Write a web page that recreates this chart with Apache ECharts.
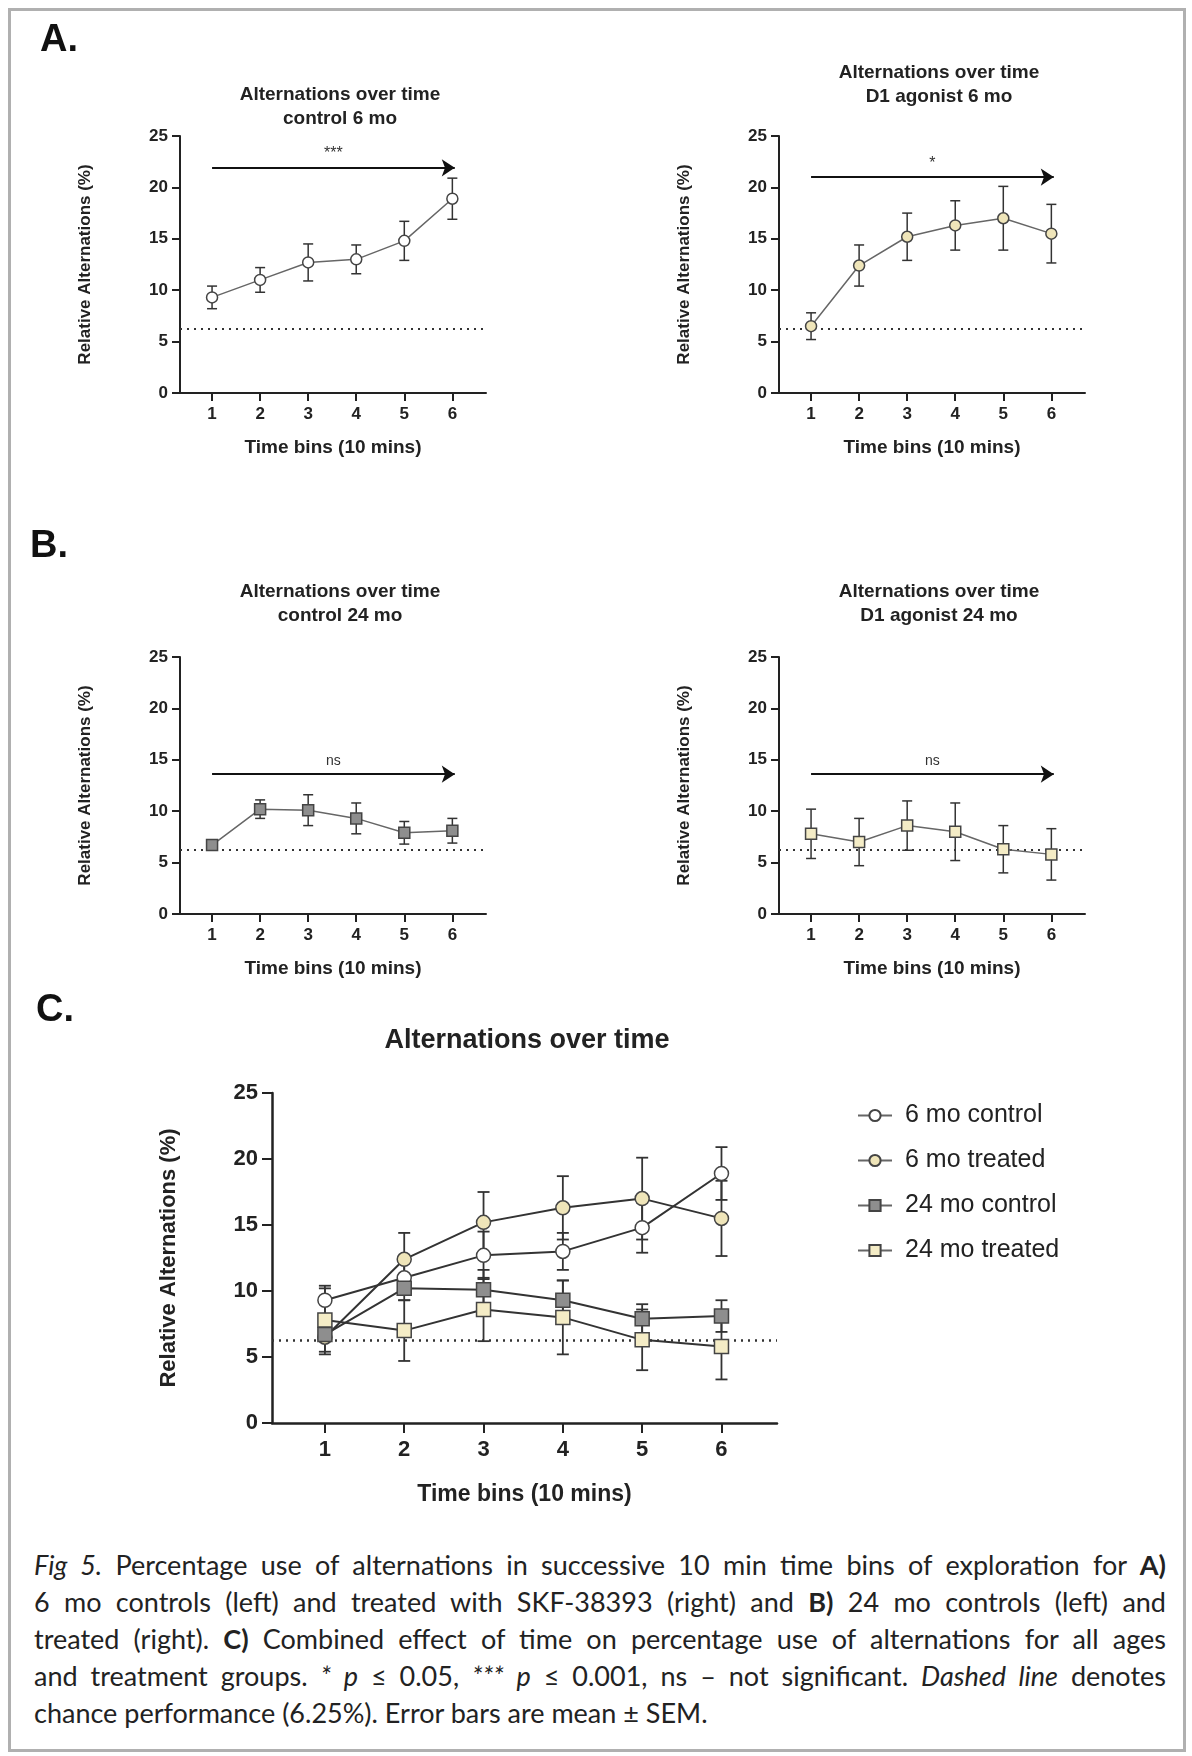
<!DOCTYPE html>
<html lang="en">
<head>
  <meta charset="UTF-8">
  <title>Alternations over time</title>
  <script src="https://cdn.jsdelivr.net/npm/echarts@6.0.0/dist/echarts.min.js"></script>
  <style>
    body { margin: 0; background: #fff; }
    #frame { position: absolute; left: 8px; top: 8px; width: 1172px; height: 1738px; border: 3px solid #b0b0b0; }
    #chart { position: absolute; left: 0; top: 0; width: 1192px; height: 1530px; }
    #caption { position: absolute; left: 34px; top: 1546px; width: 1132px; font-family: Lato, "Open Sans", sans-serif;
      font-size: 27px; line-height: 37px; color: #222; }
    #caption span { display: block; text-align: justify; text-align-last: justify; white-space: nowrap; }
    #caption span.last { text-align-last: left; }
  </style>
</head>
<body>
  <div id="frame"></div>
  <div id="chart"></div>
  <div id="caption">
    <span><i>Fig 5.</i> Percentage use of alternations in successive 10 min time bins of exploration for <b>A)</b></span>
    <span>6 mo controls (left) and treated with SKF-38393 (right) and <b>B)</b> 24 mo controls (left) and</span>
    <span>treated (right). <b>C)</b> Combined effect of time on percentage use of alternations for all ages</span>
    <span>and treatment groups. <i>* p</i> ≤ 0.05, <i>*** p</i> ≤ 0.001, ns – not significant. <i>Dashed line</i> denotes</span>
    <span class="last">chance performance (6.25%). Error bars are mean ± SEM.</span>
  </div>

  <script>
    // data
    const bins = [1, 2, 3, 4, 5, 6]
    const yTicks = [0, 5, 10, 15, 20, 25]
    const chance = 6.25
    const ctrl6 = [9.3, 11.0, 12.7, 13.0, 14.8, 18.9]
    const ctrl6Sem = [1.1, 1.2, 1.8, 1.4, 1.9, 2.0]
    const treat6 = [6.5, 12.4, 15.2, 16.3, 17.0, 15.5]
    const treat6Sem = [1.3, 2.0, 2.3, 2.4, 3.1, 2.85]
    const ctrl24 = [6.7, 10.2, 10.1, 9.3, 7.9, 8.1]
    const ctrl24Sem = [0.5, 0.9, 1.5, 1.5, 1.1, 1.2]
    const treat24 = [7.8, 7.0, 8.6, 8.0, 6.3, 5.8]
    const treat24Sem = [2.4, 2.3, 2.4, 2.8, 2.3, 2.5]

    const FONT = '"Liberation Sans", Arial, sans-serif'
    const chart = echarts.init(document.getElementById('chart'))

    const panels = [
      { name: '6 mo control', vals: ctrl6, sem: ctrl6Sem, symbol: 'circle', fill: '#ffffff',
        left: 180, top: 136, title: 'Alternations over time\ncontrol 6 mo', titleTop: 78, arrowY: 21.9, sig: '***' },
      { name: '6 mo treated', vals: treat6, sem: treat6Sem, symbol: 'circle', fill: '#efe5b9',
        left: 779, top: 136, title: 'Alternations over time\nD1 agonist 6 mo', titleTop: 56, arrowY: 21.0, sig: '*' },
      { name: '24 mo control', vals: ctrl24, sem: ctrl24Sem, symbol: 'rect', fill: '#8e8e8e',
        left: 180, top: 657, title: 'Alternations over time\ncontrol 24 mo', titleTop: 575, arrowY: 13.6, sig: 'ns' },
      { name: '24 mo treated', vals: treat24, sem: treat24Sem, symbol: 'rect', fill: '#f4ecc6',
        left: 779, top: 657, title: 'Alternations over time\nD1 agonist 24 mo', titleTop: 575, arrowY: 13.6, sig: 'ns' }
    ]

    const grids = [], xAxes = [], yAxes = [], series = [], titles = []

    function axes(i, big) {
      const fs = big ? 22 : 17
      xAxes.push({
        gridIndex: i, type: 'value', min: 0.333, max: 6.7,
        axisLine: { lineStyle: { color: '#222', width: big ? 2.5 : 2 } },
        axisTick: { customValues: bins, length: big ? 10 : 8, lineStyle: { color: '#222', width: 2 } },
        axisLabel: { customValues: bins, color: '#222', fontFamily: FONT, fontWeight: 'bold', fontSize: fs, margin: big ? 16 : 13 },
        splitLine: { show: false },
        name: 'Time bins (10 mins)', nameLocation: 'middle', nameGap: big ? 60 : 45,
        nameTextStyle: { color: '#222', fontFamily: FONT, fontWeight: 'bold', fontSize: big ? 23 : 19 }
      })
      yAxes.push({
        gridIndex: i, type: 'value', min: 0, max: 25, interval: 5,
        axisLine: { show: true, lineStyle: { color: '#222', width: big ? 2.5 : 2 } },
        axisTick: { show: true, length: big ? 10 : 8, lineStyle: { color: '#222', width: 2 } },
        axisLabel: { color: '#222', fontFamily: FONT, fontWeight: 'bold', fontSize: fs, margin: big ? 14 : 12 },
        splitLine: { show: false },
        name: 'Relative Alternations (%)', nameLocation: 'middle', nameGap: big ? 92 : 86,
        nameTextStyle: { color: '#222', fontFamily: FONT, fontWeight: 'bold', fontSize: big ? 22 : 17 }
      })
    }

    function addSeries(i, p, big, lineColor, extra) {
      const sz = big ? 14 : 11
      series.push(Object.assign({
        name: p.name, type: 'line', xAxisIndex: i, yAxisIndex: i,
        data: bins.map((b, k) => [b, p.vals[k]]),
        symbol: p.symbol, symbolSize: sz, z: 5,
        itemStyle: { color: p.fill, borderColor: '#444', borderWidth: 1.5 },
        lineStyle: { color: lineColor, width: big ? 2 : 1.5 }
      }, extra || {}))
      series.push({
        type: 'custom', xAxisIndex: i, yAxisIndex: i, z: 4, silent: true,
        data: bins.map((b, k) => [b, p.vals[k] - p.sem[k], p.vals[k] + p.sem[k]]),
        renderItem: function (params, api) {
          const lo = api.coord([api.value(0), api.value(1)])
          const hi = api.coord([api.value(0), api.value(2)])
          const w = big ? 6 : 5
          const st = { stroke: '#333', lineWidth: big ? 1.8 : 1.5 }
          return { type: 'group', children: [
            { type: 'line', shape: { x1: lo[0], y1: lo[1], x2: hi[0], y2: hi[1] }, style: st },
            { type: 'line', shape: { x1: lo[0] - w, y1: lo[1], x2: lo[0] + w, y2: lo[1] }, style: st },
            { type: 'line', shape: { x1: hi[0] - w, y1: hi[1], x2: hi[0] + w, y2: hi[1] }, style: st }
          ] }
        }
      })
    }

    const chanceLine = (width) => ({
      silent: true, symbol: 'none', label: { show: false },
      lineStyle: { type: [2, 5], color: '#333', width: width },
      data: [{ yAxis: chance }]
    })

    panels.forEach((p, i) => {
      grids.push({ left: p.left, top: p.top, width: 306, height: 257 })
      axes(i, false)
      titles.push({
        text: p.title, left: p.left + 155, top: p.titleTop, textAlign: 'center',
        textStyle: { fontFamily: FONT, fontWeight: 'bold', fontSize: 19, color: '#222', lineHeight: 24 }
      })
      addSeries(i, p, false, '#666', { markLine: chanceLine(2) })
      // arrow with significance label
      series.push({
        type: 'line', xAxisIndex: i, yAxisIndex: i, data: [], silent: true,
        markLine: {
          symbol: ['none', 'arrow'], symbolSize: 13,
          lineStyle: { type: 'solid', color: '#111', width: 2 },
          label: { show: true, position: 'middle', formatter: p.sig, color: '#333', fontFamily: FONT,
            fontSize: p.sig === 'ns' ? 14 : 16, distance: 6 },
          data: [[{ coord: [1, p.arrowY], symbol: 'none' }, { coord: [6.05, p.arrowY], symbol: 'arrow' }]]
        }
      })
    })

    // panel C: all groups
    grids.push({ left: 272, top: 1093, width: 505, height: 330 })
    axes(4, true)
    panels.forEach((p, k) => addSeries(4, p, true, '#333', k === 0 ? { markLine: chanceLine(2.5) } : {}))
    titles.push({
      text: 'Alternations over time', left: 522, top: 1022, textAlign: 'center',
      textStyle: { fontFamily: FONT, fontWeight: 'bold', fontSize: 27, color: '#222' }
    })

    chart.setOption({
      animation: false,
      title: titles,
      grid: grids,
      xAxis: xAxes,
      yAxis: yAxes,
      legend: {
        data: panels.map(p => p.name), orient: 'vertical', left: 852, top: 1098,
        itemWidth: 34, itemHeight: 14, itemGap: 20,
        textStyle: { fontFamily: FONT, fontSize: 25, color: '#222', padding: [0, 0, 0, 8] }
      },
      graphic: [
        { type: 'text', left: 40, top: 22, style: { text: 'A.', font: 'bold 38px ' + FONT, fill: '#111' } },
        { type: 'text', left: 30, top: 528, style: { text: 'B.', font: 'bold 38px ' + FONT, fill: '#111' } },
        { type: 'text', left: 36, top: 992, style: { text: 'C.', font: 'bold 38px ' + FONT, fill: '#111' } }
      ],
      series: series
    })
  </script>
</body>
</html>
